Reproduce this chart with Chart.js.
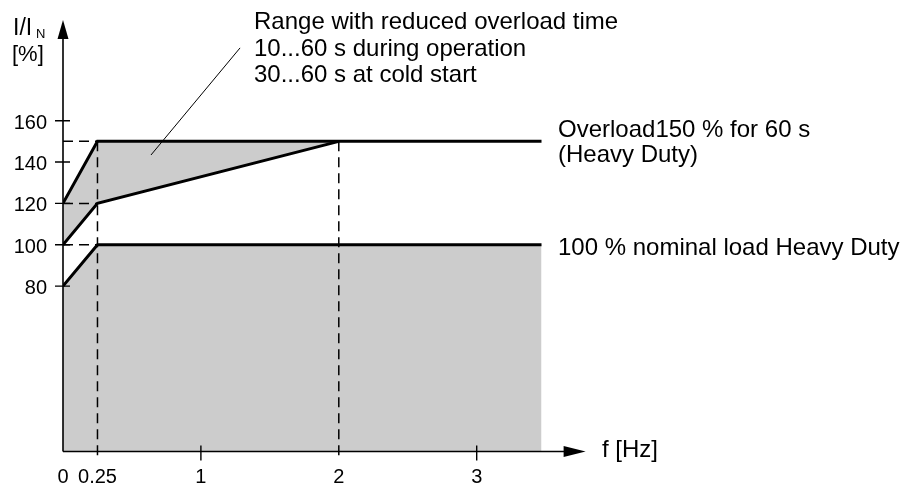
<!DOCTYPE html>
<html>
<head>
<meta charset="utf-8">
<script src="https://cdn.jsdelivr.net/npm/chart.js@4.4.1/dist/chart.umd.min.js"></script>
<style>
html,body{margin:0;padding:0;background:#fff;}
#wrap{width:907px;height:485px;position:relative;}
</style>
</head>
<body>
<div id="wrap"><canvas id="c"></canvas></div>
<script>
// ---- data ----
const xTickValues = [0, 0.25, 1, 2, 3];
const xTickLabels = ['0', '0.25', '1', '2', '3'];
const yTickValues = [80, 100, 120, 140, 160];
const yTickLabels = ['80', '100', '120', '140', '160'];

const nominalFreq = [0, 0.25, 3.47];
const nominalLoad = [80, 100, 100];

const overloadFreq = [0, 0.25, 3.47];
const overloadLoad = [120, 150, 150];

const reducedUpperFreq = [0, 0.25, 2];
const reducedUpperLoad = [120, 150, 150];
const reducedLowerFreq = [0, 0.25, 2];
const reducedLowerLoad = [100, 120, 150];

const guideFreq = [0.25, 2];          // vertical dashed lines (from 150 % down)
const guideTop = 150;
const guideLoad = [100, 120, 150];    // horizontal dashed lines (0 .. 0.25 Hz)
const guideLoadEnd = 0.25;

const leaderFreq = [1.284, 0.638];    // annotation pointer
const leaderLoad = [195.2, 143.4];

const xAxisEnd = 3.79;
const yAxisEnd = 208.7;

const annotationLines = ['Range with reduced overload time', '10...60 s during operation', '30...60 s at cold start'];
const overloadLabel = ['Overload150 % for 60 s', '(Heavy Duty)'];
const nominalLabel = '100 % nominal load Heavy Duty';

// ---- helpers ----
const pts = (xs, ys) => xs.map((x, i) => ({x: x, y: ys[i]}));
const GRAY = '#cccccc';
const INK = '#000000';
const FONT = '"Liberation Sans", Arial, Helvetica, sans-serif';
const XMAX = 6, YMAX = 210, PXX = 137.9;

const decor = {
  id: 'decor',
  afterDatasetsDraw(chart) {
    const ctx = chart.ctx;
    const xs = chart.scales.x, ys = chart.scales.y;
    const X = v => xs.getPixelForValue(v);
    const Y = v => ys.getPixelForValue(v);
    const x0 = X(0), y0 = Y(0);
    ctx.save();

    // dashed guide lines
    ctx.strokeStyle = INK;
    ctx.lineWidth = 1.5;
    ctx.setLineDash([10, 6]);
    guideLoad.forEach(v => {
      ctx.beginPath();
      ctx.moveTo(x0, Y(v));
      ctx.lineTo(X(guideLoadEnd), Y(v));
      ctx.stroke();
    });
    guideFreq.forEach(f => {
      ctx.beginPath();
      ctx.moveTo(X(f), Y(guideTop));
      ctx.lineTo(X(f), y0 + 9);
      ctx.stroke();
    });
    ctx.setLineDash([]);

    // axes
    ctx.lineWidth = 1.6;
    ctx.beginPath();
    ctx.moveTo(x0, y0);
    ctx.lineTo(X(xAxisEnd) - 10, y0);
    ctx.moveTo(x0, y0);
    ctx.lineTo(x0, Y(yAxisEnd) + 10);
    ctx.stroke();
    ctx.fillStyle = INK;
    // x arrow
    const xt = X(xAxisEnd);
    ctx.beginPath();
    ctx.moveTo(xt, y0);
    ctx.lineTo(xt - 22, y0 - 5.5);
    ctx.lineTo(xt - 22, y0 + 5.5);
    ctx.closePath();
    ctx.fill();
    // y arrow
    const yt = Y(yAxisEnd);
    ctx.beginPath();
    ctx.moveTo(x0, yt);
    ctx.lineTo(x0 - 5.5, yt + 19);
    ctx.lineTo(x0 + 5.5, yt + 19);
    ctx.closePath();
    ctx.fill();

    // ticks
    ctx.lineWidth = 1.4;
    ctx.beginPath();
    yTickValues.forEach(v => {
      ctx.moveTo(x0 - 8, Y(v));
      ctx.lineTo(x0 + 7, Y(v));
    });
    xTickValues.forEach(v => {
      if (v === 0 || guideFreq.includes(v)) return;
      ctx.moveTo(X(v), y0 - 6);
      ctx.lineTo(X(v), y0 + 9);
    });
    ctx.stroke();

    // tick labels
    ctx.font = '20px ' + FONT;
    ctx.textBaseline = 'alphabetic';
    ctx.textAlign = 'right';
    yTickValues.forEach((v, i) => ctx.fillText(yTickLabels[i], 47, Y(v) + 8));
    ctx.textAlign = 'center';
    xTickValues.forEach((v, i) => ctx.fillText(xTickLabels[i], X(v), 482.5));

    // axis titles
    ctx.textAlign = 'left';
    ctx.font = '24px ' + FONT;
    ctx.fillText('f [Hz]', 602, 457);
    ctx.font = '23px ' + FONT;
    ctx.fillText('I/I', 13, 35);
    ctx.font = '22px ' + FONT;
    ctx.fillText('[%]', 12, 61);
    ctx.font = '13px ' + FONT;
    ctx.fillText('N', 36, 38);

    // annotations
    ctx.font = '24px ' + FONT;
    annotationLines.forEach((t, i) => ctx.fillText(t, 254, 29 + i * 26.5));
    overloadLabel.forEach((t, i) => ctx.fillText(t, 558, 137 + i * 25));
    ctx.fillText(nominalLabel, 558, 255);

    // pointer
    ctx.lineWidth = 1;
    ctx.beginPath();
    ctx.moveTo(X(leaderFreq[0]), Y(leaderLoad[0]));
    ctx.lineTo(X(leaderFreq[1]), Y(leaderLoad[1]));
    ctx.stroke();

    ctx.restore();
  }
};

const TRANSPARENT = 'rgba(0,0,0,0)';
new Chart(document.getElementById('c'), {
  type: 'line',
  data: {
    datasets: [
      // thick lines (on top)
      {data: pts(nominalFreq, nominalLoad), borderColor: INK, borderWidth: 3, fill: false, order: 1},
      {data: pts(overloadFreq, overloadLoad), borderColor: INK, borderWidth: 3, fill: false, order: 1},
      {data: pts(reducedLowerFreq, reducedLowerLoad), borderColor: INK, borderWidth: 3, fill: false, order: 1},
      // fills
      {data: pts(nominalFreq, nominalLoad), borderColor: TRANSPARENT, borderWidth: 0, backgroundColor: GRAY, fill: 'origin', order: 10},
      {data: pts(reducedUpperFreq, reducedUpperLoad), borderColor: TRANSPARENT, borderWidth: 0, backgroundColor: GRAY, fill: 5, order: 9},
      {data: pts(reducedLowerFreq, reducedLowerLoad), borderColor: TRANSPARENT, borderWidth: 0, backgroundColor: TRANSPARENT, fill: false, order: 9}
    ]
  },
  options: {
    responsive: true,
    maintainAspectRatio: false,
    animation: false,
    events: [],
    layout: {padding: {left: 63, right: 907 - 63 - XMAX * PXX, top: 17.3, bottom: 33.5}},
    scales: {
      x: {type: 'linear', min: 0, max: XMAX, display: false},
      y: {type: 'linear', min: 0, max: YMAX, display: false}
    },
    elements: {
      point: {radius: 0, hoverRadius: 0},
      line: {tension: 0, borderJoinStyle: 'miter', borderCapStyle: 'butt'}
    },
    plugins: {legend: {display: false}, tooltip: {enabled: false}}
  },
  plugins: [decor]
});
</script>
</body>
</html>
